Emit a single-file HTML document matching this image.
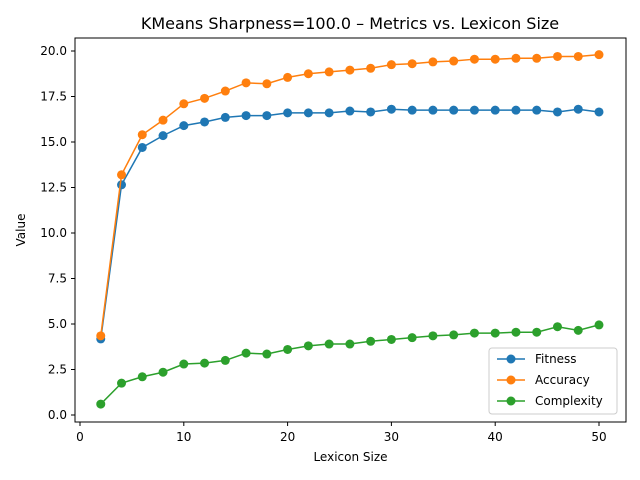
<!DOCTYPE html>
<html><head><meta charset="utf-8"><style>body{margin:0;background:#fff}svg{display:block;font-family:"DejaVu Sans","Liberation Sans",sans-serif}</style></head>
<body>
<svg id="c" width="640" height="480"></svg>
<script>
const xs=[2,4,6,8,10,12,14,16,18,20,22,24,26,28,30,32,34,36,38,40,42,44,46,48,50];
const fitness=[4.18,12.65,14.7,15.35,15.9,16.1,16.35,16.45,16.45,16.6,16.6,16.6,16.7,16.65,16.8,16.75,16.75,16.75,16.75,16.75,16.75,16.75,16.65,16.8,16.65];
const accuracy=[4.35,13.2,15.4,16.2,17.1,17.4,17.8,18.25,18.2,18.55,18.75,18.85,18.95,19.05,19.25,19.3,19.4,19.45,19.55,19.55,19.6,19.6,19.7,19.7,19.8];
const complexity=[0.6,1.75,2.1,2.35,2.8,2.85,3.0,3.4,3.35,3.6,3.8,3.9,3.9,4.05,4.15,4.25,4.35,4.4,4.5,4.5,4.55,4.55,4.85,4.65,4.95];
const xTicks=[0,10,20,30,40,50];
const yTicks=[0,2.5,5,7.5,10,12.5,15,17.5,20];
const seriesNames=["Fitness","Accuracy","Complexity"];
const colors=["#1f77b4","#ff7f0e","#2ca02c"];
const NS="http://www.w3.org/2000/svg";
const svg=document.getElementById('c');
const L=75,R=626,T=38,B=422;
const X=v=>80+v*(599-80)/50;
const Y=v=>415-v*(415-51)/20;
function el(t,a,p){const e=document.createElementNS(NS,t);for(const k in a)e.setAttribute(k,a[k]);(p||svg).appendChild(e);return e;}
const title=el('text',{x:350,y:29,'text-anchor':'middle','font-size':16,fill:'#000'});title.textContent="KMeans Sharpness=100.0 – Metrics vs. Lexicon Size";


xTicks.forEach(t=>{el('line',{x1:X(t),x2:X(t),y1:B,y2:B+4,stroke:'#000'});const tx=el('text',{x:X(t),y:441,'text-anchor':'middle','font-size':12});tx.textContent=t;

});
yTicks.forEach(t=>{el('line',{x1:L-4,x2:L,y1:Y(t),y2:Y(t),stroke:'#000'});const tx=el('text',{x:L-8,y:Y(t)+4,'text-anchor':'end','font-size':12});tx.textContent=t.toFixed(1);

});
const xl=el('text',{x:(L+R)/2,y:461,'text-anchor':'middle','font-size':12});xl.textContent="Lexicon Size";


const yl=el('text',{x:0,y:0,'text-anchor':'middle','font-size':12,transform:`translate(25,${(T+B)/2}) rotate(-90)`});yl.textContent="Value";


[fitness,accuracy,complexity].forEach((s,i)=>{const g=el('g',{});


el('polyline',{points:s.map((v,j)=>X(xs[j])+','+Y(v)).join(' '),fill:'none',stroke:colors[i],'stroke-width':1.5},g);
s.forEach((v,j)=>{const c=el('circle',{cx:X(xs[j]),cy:Y(v),r:4.5,fill:colors[i]},g);

});});
el('rect',{x:L,y:T,width:R-L,height:B-T,fill:'none',stroke:'#000','stroke-width':1});
const lg=el('g',{});


el('rect',{x:489,y:348,width:128,height:66,rx:3,fill:'#fff','fill-opacity':0.8,stroke:'#ccc'},lg);
seriesNames.forEach((n,i)=>{const y=359+i*21;el('line',{x1:497,x2:525,y1:y,y2:y,stroke:colors[i],'stroke-width':1.5},lg);el('circle',{cx:511,cy:y,r:4.5,fill:colors[i]},lg);const t=el('text',{x:535,y:y+4,'font-size':12},lg);t.textContent=n;

});
</script>
</body></html>
